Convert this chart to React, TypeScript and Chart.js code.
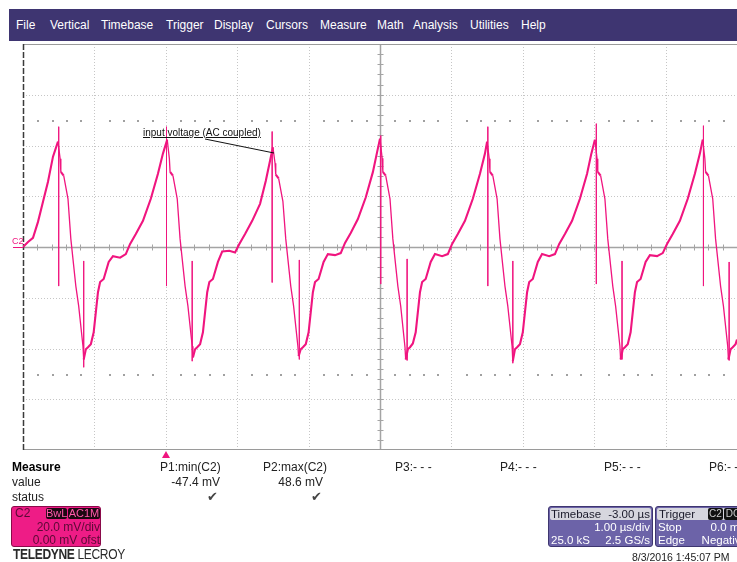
import React, { useEffect, useRef } from "react";
import { Chart, registerables } from "chart.js";

Chart.register(...registerables);

// ---- data (time in µs from left edge of screen, voltage in mV) ----
const leadIn = [[0.0, 0.0], [0.07, 2.0], [0.14, 3.6], [0.21, 9.9], [0.28, 17.8], [0.35, 25.7], [0.42, 35.6], [0.49, 41.5]];
const cycle1 = [[0.52, 34.8], [0.53, 29.6], [0.57, 28.1], [0.63, 19.0], [0.67, 3.2], [0.74, -15.4], [0.78, -23.3], [0.84, -39.1], [0.85, -44.3], [0.88, -40.3], [0.91, -39.5], [0.95, -38.3], [0.99, -33.6], [1.05, -17.8], [1.08, -13.8], [1.13, -12.6], [1.2, -5.9], [1.26, -3.6], [1.36, -4.2], [1.44, -2.8], [1.5, 1.2], [1.58, 5.1], [1.68, 10.3], [1.79, 19.0], [1.89, 28.9], [1.96, 36.8], [2.02, 42.3]];
const cycle2 = [[2.05, 34.8], [2.06, 29.6], [2.1, 28.1], [2.16, 19.0], [2.2, 3.2], [2.27, -15.4], [2.31, -23.3], [2.37, -39.1], [2.38, -43.5], [2.41, -40.3], [2.44, -39.5], [2.48, -38.3], [2.52, -33.6], [2.58, -17.8], [2.61, -13.8], [2.66, -12.6], [2.73, -5.9], [2.79, -1.8], [2.89, -1.5], [2.97, -2.2], [3.03, 1.2], [3.11, 5.1], [3.21, 10.3], [3.32, 17.0], [3.4, 26.0], [3.46, 34.0], [3.5, 39.3]];
const cycle3 = [[3.53, 33.0], [3.54, 28.5], [3.58, 27.0], [3.64, 18.0], [3.68, 3.2], [3.75, -15.4], [3.79, -23.3], [3.85, -39.1], [3.86, -43.0], [3.89, -40.3], [3.92, -39.5], [3.96, -38.3], [4.0, -33.6], [4.06, -17.8], [4.09, -13.8], [4.14, -12.6], [4.21, -5.9], [4.27, -2.8], [4.37, -3.2], [4.45, -2.4], [4.51, 1.6], [4.59, 5.5], [4.69, 11.0], [4.8, 19.5], [4.9, 29.5], [4.96, 37.5], [5.0, 42.7]];
const cycle4 = [[5.03, 35.0], [5.04, 29.6], [5.08, 28.1], [5.14, 19.0], [5.18, 3.2], [5.25, -15.4], [5.29, -23.3], [5.35, -39.5], [5.36, -44.3], [5.39, -40.3], [5.42, -39.5], [5.46, -38.0], [5.5, -33.6], [5.56, -17.8], [5.59, -13.8], [5.64, -12.6], [5.71, -5.9], [5.77, -2.8], [5.87, -3.6], [5.95, -2.8], [6.01, 1.2], [6.09, 5.1], [6.19, 10.3], [6.3, 19.0], [6.4, 28.9], [6.47, 36.8], [6.5, 41.5]];
const cycle5 = [[6.53, 34.8], [6.54, 29.6], [6.58, 28.1], [6.64, 19.0], [6.68, 3.2], [6.75, -15.4], [6.79, -23.3], [6.85, -39.1], [6.86, -45.0], [6.89, -40.3], [6.92, -39.5], [6.96, -38.3], [7.0, -33.6], [7.06, -17.8], [7.09, -13.8], [7.14, -12.6], [7.21, -5.9], [7.27, -2.8], [7.37, -3.6], [7.45, -2.8], [7.51, 1.2], [7.59, 5.1], [7.69, 10.3], [7.8, 19.0], [7.9, 28.9], [7.96, 36.8], [8.01, 42.3]];
const cycle6 = [[8.04, 34.8], [8.05, 29.6], [8.09, 28.1], [8.15, 19.0], [8.19, 3.2], [8.26, -15.4], [8.3, -23.3], [8.36, -39.1], [8.37, -44.3], [8.4, -40.3], [8.43, -39.5], [8.47, -38.3], [8.51, -33.6], [8.57, -17.8], [8.6, -13.8], [8.65, -12.6], [8.72, -5.9], [8.78, -3.2], [8.88, -3.6], [8.96, -2.4], [9.02, 1.2], [9.1, 5.1], [9.2, 10.3], [9.31, 19.0], [9.41, 28.9], [9.48, 36.8], [9.52, 42.3]];
const cycle7 = [[9.55, 34.8], [9.56, 29.6], [9.6, 28.1], [9.66, 19.0], [9.7, 3.2], [9.77, -15.4], [9.81, -23.3], [9.87, -39.1], [9.88, -44.3], [9.91, -40.3], [9.94, -39.5], [9.98, -38.3], [10.0, -36.5]];

const peakSpikeTimes = [0.5, 2.01, 3.49, 5.01, 6.51, 8.03, 9.53];
const peakSpikeTops = [47.4, 47.4, 45.5, 43.9, 47.4, 48.6, 47.8];
const peakSpikeBottoms = [-15.4, -15.4, -14.0, -14.6, -15.4, -14.6, -15.4];
const troughSpikeTimes = [0.85, 2.37, 3.87, 5.38, 6.86, 8.39, 9.89];
const troughSpikeTops = [-5.5, -5.5, -5.1, -4.7, -5.5, -5.5, -5.9];
const troughSpikeBottoms = [-47.4, -45.0, -44.3, -44.7, -45.8, -44.3, -44.7];

const xDivisions = [0, 1, 2, 3, 4, 5, 6, 7, 8, 9, 10]; // µs (1 µs/div)
const yDivisions = [-80, -60, -40, -20, 0, 20, 40, 60, 80]; // mV (20 mV/div)

const menuItems = ["File", "Vertical", "Timebase", "Trigger", "Display", "Cursors", "Measure", "Math", "Analysis", "Utilities", "Help"];
const measureNames = ["P1:min(C2)", "P2:max(C2)", "P3:- - -", "P4:- - -", "P5:- - -", "P6:- - -"];
const measureValues = ["-47.4 mV", "48.6 mV"];

const TRACE = "#f0157f";

const gridPlugin = {
  id: "scopeGrid",
  beforeDatasetsDraw(chart: any) {
    const { ctx, chartArea, scales } = chart;
    const { left, right, top, bottom } = chartArea;
    const xs = scales.x;
    const ys = scales.y;
    const line = (x1: number, y1: number, x2: number, y2: number) => {
      ctx.beginPath();
      ctx.moveTo(x1, y1);
      ctx.lineTo(x2, y2);
      ctx.stroke();
    };
    ctx.save();
    ctx.lineWidth = 1;
    ctx.strokeStyle = "#c6c6c6";
    ctx.setLineDash([1, 2]);
    xDivisions.forEach((d) => {
      if (d === 0 || d === 5 || d === 10) return;
      const px = Math.round(xs.getPixelForValue(d)) + 0.5;
      line(px, top, px, bottom);
    });
    yDivisions.forEach((v) => {
      if (v === 0 || v === -80 || v === 80) return;
      const py = Math.round(ys.getPixelForValue(v)) + 0.5;
      line(left, py, right, py);
    });
    ctx.setLineDash([]);
    ctx.fillStyle = "#a0a0a0";
    [50, -50].forEach((v) => {
      const py = Math.round(ys.getPixelForValue(v));
      for (let i = 1; i < 50; i++) {
        if (i % 5 === 0) continue;
        const px = Math.round(xs.getPixelForValue(i * 0.2));
        ctx.fillRect(px, py, 2, 2);
      }
    });
    ctx.strokeStyle = "#a4a4a4";
    const cx = Math.round(xs.getPixelForValue(5)) + 0.5;
    const cy = Math.round(ys.getPixelForValue(0)) + 0.5;
    ctx.lineWidth = 1.5;
    line(left, cy, right, cy);
    line(cx, top, cx, bottom);
    ctx.lineWidth = 1;
    for (let i = 1; i < 50; i++) {
      const px = Math.round(xs.getPixelForValue(i * 0.2)) + 0.5;
      line(px, cy - 3, px, cy + 3);
    }
    for (let k = 1; k < 40; k++) {
      const py = Math.round(ys.getPixelForValue(-80 + k * 4)) + 0.5;
      line(cx - 3, py, cx + 3, py);
    }
    ctx.strokeStyle = "#9a9a9a";
    line(left, top + 0.5, right, top + 0.5);
    line(left, bottom - 0.5, right, bottom - 0.5);
    ctx.strokeStyle = "#3a3a3a";
    ctx.lineWidth = 1.5;
    ctx.setLineDash([6, 2]);
    line(left + 0.5, top, left + 0.5, bottom);
    ctx.restore();
  },
};

function ScopeChart() {
  const ref = useRef<HTMLCanvasElement | null>(null);
  useEffect(() => {
    if (!ref.current) return;
    const traceCycles = [leadIn, cycle1, cycle2, cycle3, cycle4, cycle5, cycle6, cycle7];
    const tracePoints = traceCycles.flat().map(([x, y]) => ({ x, y }));
    const peakSpikes: any[] = [];
    peakSpikeTimes.forEach((t, i) => {
      peakSpikes.push({ x: t, y: peakSpikeTops[i] }, { x: t, y: peakSpikeBottoms[i] }, { x: t, y: null });
    });
    const troughSpikes: any[] = [];
    troughSpikeTimes.forEach((t, i) => {
      troughSpikes.push({ x: t, y: troughSpikeTops[i] }, { x: t, y: troughSpikeBottoms[i] }, { x: t, y: null });
    });
    const chart = new Chart(ref.current, {
      type: "line",
      data: {
        datasets: [
          {
            data: tracePoints,
            borderColor: TRACE,
            borderWidth: 2,
            pointRadius: 0,
            tension: 0,
            segment: {
              borderWidth: (c: any) => {
                const dx = c.p1.parsed.x - c.p0.parsed.x;
                const dy = c.p1.parsed.y - c.p0.parsed.y;
                return dx > 0 && dy / dx < -120 ? 1.3 : 2.1;
              },
            },
          } as any,
          { data: peakSpikes, borderColor: "rgba(240,21,127,0.85)", borderWidth: 1, pointRadius: 0, spanGaps: false },
          { data: troughSpikes, borderColor: "rgba(240,21,127,0.85)", borderWidth: 1, pointRadius: 0, spanGaps: false },
        ],
      },
      options: {
        animation: false,
        responsive: false,
        maintainAspectRatio: false,
        layout: { padding: { left: 5, top: 4, right: 0, bottom: 6 } },
        scales: {
          x: { type: "linear", min: 0, max: 10, display: false },
          y: { type: "linear", min: -80, max: 80, display: false },
        },
        plugins: { legend: { display: false }, tooltip: { enabled: false } },
      },
      plugins: [gridPlugin],
    });
    return () => chart.destroy();
  }, []);
  return <canvas ref={ref} width={719} height={416} style={{ position: "absolute", left: 18, top: 40, width: 719, height: 416 }} />;
}

const abs = (s: React.CSSProperties): React.CSSProperties => ({ position: "absolute", whiteSpace: "nowrap", ...s });

export default function App() {
  const menuX = [16, 50, 101, 166, 214, 266, 320, 377, 413, 470, 521];
  const measX = [160, 263, 395, 500, 604, 709];
  const font = "'Liberation Sans', Arial, sans-serif";
  return (
    <div style={{ position: "absolute", left: 0, top: 0, width: 737, height: 562, overflow: "hidden", background: "#fff", fontFamily: font, color: "#222" }}>
      <div style={abs({ left: 9, top: 9, width: 728, height: 32, background: "#3e3571" })} />
      {menuItems.map((m, i) => (
        <div key={m} style={abs({ left: menuX[i], top: 18, fontSize: 12, lineHeight: "14px", color: "#fff" })}>{m}</div>
      ))}

      <ScopeChart />

      <div style={abs({ left: 12, top: 236, fontSize: 9, lineHeight: "10px", color: TRACE })}>C2</div>
      <div style={abs({ left: 13, top: 247, width: 10, height: 1, background: TRACE })} />

      <div style={abs({ left: 143, top: 127, fontSize: 10, lineHeight: "12px", color: "#111", textDecoration: "underline" })}>input voltage (AC coupled)</div>
      <svg width={737} height={562} style={{ position: "absolute", left: 0, top: 0, pointerEvents: "none" }}>
        <line x1={205} y1={139} x2={274} y2={153} stroke="#111" strokeWidth={1} />
        <polygon points="162,458 166,451 170,458" fill={TRACE} />
      </svg>

      <div style={abs({ left: 12, top: 460, fontSize: 12, lineHeight: "14px", fontWeight: "bold", color: "#000" })}>Measure</div>
      <div style={abs({ left: 12, top: 475, fontSize: 12, lineHeight: "14px" })}>value</div>
      <div style={abs({ left: 12, top: 490, fontSize: 12, lineHeight: "14px" })}>status</div>
      {measureNames.map((n, i) => (
        <div key={n} style={abs({ left: measX[i], top: 460, fontSize: 12, lineHeight: "14px" })}>{n}</div>
      ))}
      {measureValues.map((v, i) => (
        <div key={v} style={abs({ left: [120, 223][i], width: 100, top: 475, fontSize: 12, lineHeight: "14px", textAlign: "right" })}>{v}</div>
      ))}
      {[207, 311].map((x) => (
        <div key={x} style={abs({ left: x, top: 489, fontSize: 13, lineHeight: "15px", color: "#444", fontFamily: "'DejaVu Sans', sans-serif" })}>✔</div>
      ))}

      <div style={abs({ left: 11, top: 506, width: 88, height: 39, background: "#ee1c86", border: "1px solid #8a0a4a", borderRadius: 3 })}>
        <div style={abs({ left: 3, top: 0, fontSize: 12, lineHeight: "13px", color: "#5a0a35" })}>C2</div>
        <div style={abs({ left: 34, top: 1, width: 21, height: 11, background: "#1c0812", color: "#ff5aab", fontSize: 11, lineHeight: "11px", textAlign: "center", borderRadius: 2 })}>BwL</div>
        <div style={abs({ left: 56, top: 1, width: 32, height: 11, background: "#1c0812", color: "#ff5aab", fontSize: 11, lineHeight: "11px", textAlign: "center", borderRadius: 2 })}>AC1M</div>
        <div style={abs({ right: 0, top: 14, fontSize: 12, lineHeight: "13px", color: "#5a0a35" })}>20.0 mV/div</div>
        <div style={abs({ right: 0, top: 27, fontSize: 12, lineHeight: "13px", color: "#5a0a35" })}>0.00 mV ofst</div>
      </div>
      <div style={abs({ left: 13, top: 546, fontSize: 14, lineHeight: "16px", color: "#2a2a2a", letterSpacing: -0.4, transform: "scaleX(0.86)", transformOrigin: "left top" })}>
        <b>TELEDYNE</b> LECROY
      </div>

      <div style={abs({ left: 548, top: 506, width: 103, height: 39, background: "#6c63a8", border: "1px solid #3e3670", borderRadius: 3, color: "#fff", fontSize: 11.5 })}>
        <div style={abs({ left: 1, top: 1, right: 1, height: 12, background: "#d6d6de", borderRadius: 2, color: "#1a1a2a" })}>
          <span style={abs({ left: 1, top: 0, lineHeight: "12px" })}>Timebase</span>
          <span style={abs({ right: 1, top: 0, lineHeight: "12px" })}>-3.00 µs</span>
        </div>
        <div style={abs({ right: 2, top: 14, lineHeight: "13px" })}>1.00 µs/div</div>
        <div style={abs({ left: 2, top: 27, lineHeight: "13px" })}>25.0 kS</div>
        <div style={abs({ right: 2, top: 27, lineHeight: "13px" })}>2.5 GS/s</div>
      </div>

      <div style={abs({ left: 655, top: 506, width: 93, height: 39, background: "#6c63a8", border: "1px solid #3e3670", borderRadius: 3, color: "#fff", fontSize: 11.5 })}>
        <div style={abs({ left: 1, top: 1, right: 1, height: 12, background: "#d6d6de", borderRadius: 2, color: "#1a1a2a" })}>
          <span style={abs({ left: 2, top: 0, lineHeight: "12px" })}>Trigger</span>
          <span style={abs({ left: 51, top: 0, width: 15, height: 12, background: "#111", color: "#ccc", borderRadius: 2, fontSize: 10, lineHeight: "12px", textAlign: "center" })}>C2</span>
          <span style={abs({ left: 67, top: 0, width: 18, height: 12, background: "#111", color: "#ccc", borderRadius: 2, fontSize: 10, lineHeight: "12px", textAlign: "center" })}>DC</span>
        </div>
        <div style={abs({ left: 2, top: 14, lineHeight: "13px" })}>Stop</div>
        <div style={abs({ right: 2, top: 14, lineHeight: "13px" })}>0.0 mV</div>
        <div style={abs({ left: 2, top: 27, lineHeight: "13px" })}>Edge</div>
        <div style={abs({ right: 2, top: 27, lineHeight: "13px" })}>Negative</div>
      </div>

      <div style={abs({ left: 632, top: 551, fontSize: 10.5, lineHeight: "12px", color: "#222" })}>8/3/2016 1:45:07 PM</div>
    </div>
  );
}
